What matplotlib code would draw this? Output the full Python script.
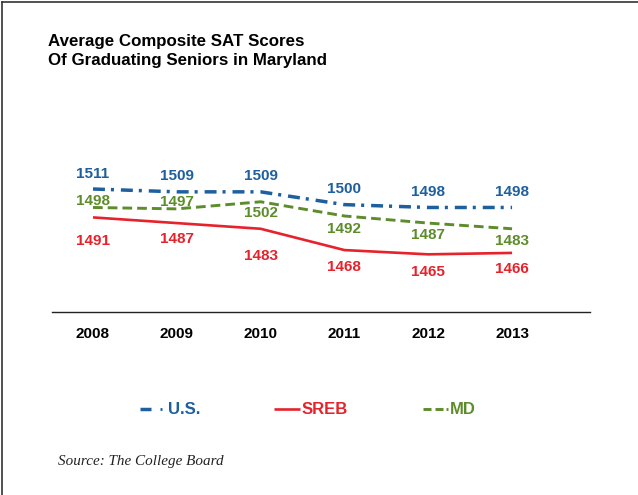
import matplotlib
matplotlib.use("Agg")
import matplotlib.pyplot as plt
from matplotlib.lines import Line2D

years = ["2008", "2009", "2010", "2011", "2012", "2013"]
us = [1511, 1509, 1509, 1500, 1498, 1498]
sreb = [1491, 1487, 1483, 1468, 1465, 1466]
md = [1498, 1497, 1502, 1492, 1487, 1483]

BLUE = "#1d5f9f"
RED = "#e6222b"
GREEN = "#5d8d2a"

plt.rcParams['lines.scale_dashes'] = False
W, H = 638, 495
fig = plt.figure(figsize=(W / 100, H / 100), dpi=100)

def fx(px):
    return px / W

def fy(py):
    return 1 - py / H

# axes: x 52..590 px, y 140..312 px
ax = fig.add_axes([fx(52), fy(312), fx(590) - fx(52), (312 - 140) / H])
x = list(range(len(years)))
ax.set_xlim(-0.489, 5.93)
ax.set_ylim(1424.4, 1545.5)

ax.plot(x, us, color=BLUE, lw=2.5, dashes=(8.6, 4.3, 2.2, 5.0), solid_capstyle='butt', dash_capstyle='butt')
ax.plot(x, sreb, color=RED, lw=1.9, solid_capstyle='butt')
ax.plot(x, md, color=GREEN, lw=2.1, dashes=(7.0, 3.6), dash_capstyle='butt')

for s in ["top", "left", "right"]:
    ax.spines[s].set_visible(False)
ax.spines["bottom"].set_color("#222222")
ax.spines["bottom"].set_linewidth(1.0)
ax.set_yticks([])
ax.set_xticks(x)
ax.set_xticklabels(years, fontsize=11, fontweight='bold', family='Liberation Sans')
ax.tick_params(axis='x', length=0, pad=10.5)

# value labels (offsets in pixels, +up)
us_off = [15, 16, 16, 16, 15.5, 15.5]
sreb_off = [-23.5, -16, -27, -17, -18, -16]
md_off = [6.5, 7, -11, -13, -12, -12]
for series, offs, col in [(us, us_off, BLUE), (sreb, sreb_off, RED), (md, md_off, GREEN)]:
    for xi, v, o in zip(x, series, offs):
        ax.annotate(str(v), (xi, v), xytext=(0, o), textcoords='offset pixels',
                    ha='center', va='center', fontsize=11, fontweight='bold',
                    color=col, family='Liberation Sans')

# title
fig.text(fx(48), fy(46), "Average Composite SAT Scores", fontsize=12.2, fontweight='bold',
         family='Liberation Sans', ha='left', va='baseline')
fig.text(fx(48), fy(64.5), "Of Graduating Seniors in Maryland", fontsize=12.2, fontweight='bold',
         family='Liberation Sans', ha='left', va='baseline')

# legend (manual)
ly = fy(409)
LFS = 12
fig.add_artist(Line2D([fx(140), fx(151)], [ly, ly], color=BLUE, lw=2.5, solid_capstyle='butt'))
fig.add_artist(Line2D([fx(159.5), fx(162)], [ly, ly], color=BLUE, lw=2.0, solid_capstyle='butt'))
fig.text(fx(168), ly, "U.S.", color=BLUE, fontsize=LFS, fontweight='bold', family='Liberation Sans',
         ha='left', va='center')
fig.add_artist(Line2D([fx(274), fx(300)], [ly, ly], color=RED, lw=1.9, solid_capstyle='butt'))
fig.text(fx(302), ly, "SREB", color=RED, fontsize=LFS, fontweight='bold', family='Liberation Sans',
         ha='left', va='center')
fig.add_artist(Line2D([fx(423), fx(431)], [ly, ly], color=GREEN, lw=2.1, solid_capstyle='butt'))
fig.add_artist(Line2D([fx(435), fx(443)], [ly, ly], color=GREEN, lw=2.1, solid_capstyle='butt'))
fig.add_artist(Line2D([fx(446), fx(448)], [ly, ly], color=GREEN, lw=2.0, solid_capstyle='butt'))
fig.text(fx(450), ly, "MD", color=GREEN, fontsize=LFS, fontweight='bold', family='Liberation Sans',
         ha='left', va='center')

# source
fig.text(fx(58), fy(461), "Source: The College Board", fontsize=10.9, style='italic',
         family='Liberation Serif', ha='left', va='center', color='#222222')

# border (left and top)
fig.add_artist(Line2D([fx(2.5), fx(2.5)], [0, fy(2)], color='#333333', lw=1.2))
fig.add_artist(Line2D([fx(2.5), 1], [fy(2), fy(2)], color='#333333', lw=1.2))

fig.savefig("out.png", dpi=100)
